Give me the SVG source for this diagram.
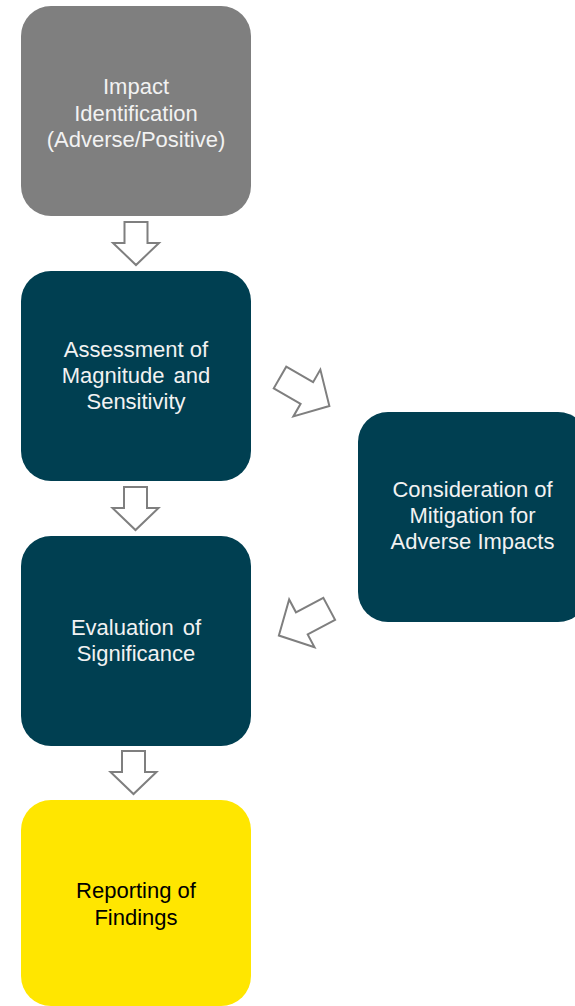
<svg xmlns="http://www.w3.org/2000/svg" width="575" height="1006" viewBox="0 0 575 1006">
  <defs>
    <style>
      .box { stroke: none; }
      .grey { fill: #7F7F7F; }
      .teal { fill: #003F51; }
      .yellow { fill: #FFE600; }
      .label { font-family: "Liberation Sans", Arial, sans-serif; font-size: 22px; text-anchor: middle; }
      .light { fill: #F2F2F2; }
      .dark { fill: #000000; }
      .arrow { fill: #FFFFFF; stroke: #7F7F7F; stroke-width: 2; stroke-linejoin: miter; }
    </style>
    <!-- block arrow pointing down, origin at the middle of its tail -->
    <polygon id="down" points="-11.5,0 11.5,0 11.5,21 23,21 0,43 -23,21 -11.5,21"/>
    <!-- block arrow pointing right, origin at the middle of its tail -->
    <polygon id="right" points="0,-12.5 31,-12.5 31,-27 57,0 31,27 31,12.5 0,12.5"/>
  </defs>

  <rect width="575" height="1006" fill="#FFFFFF"/>

  <!-- tspans are written back to back so no stray spaces shift the centred lines -->
  <g id="node-identification">
    <rect class="box grey" x="21" y="6" width="230" height="210" rx="30" ry="30"/>
    <text class="label light"><tspan x="136" y="94">Impact</tspan><tspan x="136" y="120.5">Identification</tspan><tspan x="136" y="147">(Adverse/Positive)</tspan></text>
  </g>

  <g id="node-assessment">
    <rect class="box teal" x="21" y="271" width="230" height="210" rx="30" ry="30"/>
    <text class="label light"><tspan x="136" y="357">Assessment of</tspan><tspan x="136" y="383" word-spacing="3">Magnitude and</tspan><tspan x="136" y="409">Sensitivity</tspan></text>
  </g>

  <g id="node-mitigation">
    <rect class="box teal" x="358" y="412" width="230" height="210" rx="30" ry="30"/>
    <text class="label light"><tspan x="472.5" y="497">Consideration of</tspan><tspan x="472.5" y="523">Mitigation for</tspan><tspan x="472.5" y="549">Adverse Impacts</tspan></text>
  </g>

  <g id="node-evaluation">
    <rect class="box teal" x="21" y="536" width="230" height="210" rx="30" ry="30"/>
    <text class="label light"><tspan x="136" y="635" word-spacing="3">Evaluation of</tspan><tspan x="136" y="661">Significance</tspan></text>
  </g>

  <g id="node-reporting">
    <rect class="box yellow" x="21" y="800" width="230" height="206" rx="30" ry="30"/>
    <text class="label dark"><tspan x="136" y="898">Reporting of</tspan><tspan x="136" y="925">Findings</tspan></text>
  </g>

  <g id="connectors">
    <use href="#down" class="arrow" transform="translate(136,222)"/>
    <use href="#down" class="arrow" transform="translate(135.5,487)"/>
    <use href="#down" class="arrow" transform="translate(133.5,751)"/>
    <use href="#right" class="arrow" transform="translate(280,377.5) rotate(30)"/>
    <use href="#right" class="arrow" transform="translate(329.2,608.8) rotate(152)"/>
  </g>
</svg>
